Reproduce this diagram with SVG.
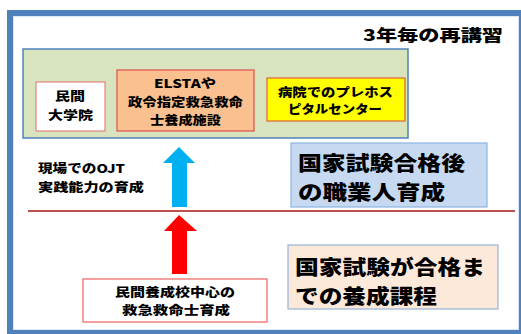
<svg xmlns="http://www.w3.org/2000/svg" width="521" height="334" viewBox="0 0 521 334">
<style>
text{font-family:"Noto Sans CJK JP","Noto Sans",sans-serif;font-weight:900;fill:#000;dominant-baseline:central}
.s{font-size:12px}
.b{font-size:20px}
.t{font-size:16px}
</style>
<rect width="521" height="334" fill="#fff"/>
<g id="frame">
<rect x="10" y="13" width="512" height="320" fill="#fff" stroke="#4f81bd" stroke-width="6"/>
<rect x="13.5" y="16.5" width="505" height="313" fill="none" stroke="#dce6f2" stroke-width="1"/>
</g>
<text id="title" class="t" x="363" y="34" textLength="140" lengthAdjust="spacingAndGlyphs">3年毎の再講習</text>
<g id="green">
<rect x="23" y="49" width="385" height="89" fill="#d7e4bd" stroke="#4f81bd" stroke-width="1.5"/>
</g>
<g id="n-univ">
<rect x="36" y="82" width="69" height="49" fill="#fff" stroke="#e46c6c" stroke-width="1"/>
<text class="s" x="55" y="95" textLength="30" lengthAdjust="spacingAndGlyphs">民間</text>
<text class="s" x="48" y="114" textLength="45" lengthAdjust="spacingAndGlyphs">大学院</text>
</g>
<g id="n-elsta">
<rect x="117" y="70" width="137" height="61" fill="#fac090" stroke="#e0504d" stroke-width="1.2"/>
<text class="s" x="154" y="82" textLength="62" lengthAdjust="spacingAndGlyphs">ELSTAや</text>
<text class="s" x="128" y="101" textLength="115" lengthAdjust="spacingAndGlyphs">政令指定救急救命</text>
<text class="s" x="150" y="119" textLength="71" lengthAdjust="spacingAndGlyphs">士養成施設</text>
</g>
<g id="n-hosp">
<rect x="267" y="78" width="138" height="43" fill="#ffff00" stroke="#e0603a" stroke-width="1.2"/>
<text class="s" x="278" y="91" textLength="115" lengthAdjust="spacingAndGlyphs">病院でのプレホス</text>
<text class="s" x="288" y="108" textLength="94" lengthAdjust="spacingAndGlyphs">ピタルセンター</text>
</g>
<g id="ojt">
<text class="s" x="38" y="167" textLength="87" lengthAdjust="spacingAndGlyphs">現場でのOJT</text>
<text class="s" x="38" y="186" textLength="106" lengthAdjust="spacingAndGlyphs">実践能力の育成</text>
</g>
<g id="n-after">
<rect x="291" y="143" width="196" height="64" fill="#c6d9f1" stroke="#8eb4e3" stroke-width="1.2"/>
<text class="b" x="298" y="162" textLength="167" lengthAdjust="spacingAndGlyphs">国家試験合格後</text>
<text class="b" x="298" y="191" textLength="147" lengthAdjust="spacingAndGlyphs">の職業人育成</text>
</g>
<g id="n-before">
<rect x="288" y="245" width="210" height="64" fill="#fde9d9" stroke="#95b3d7" stroke-width="1.2"/>
<text class="b" x="295" y="266" textLength="190" lengthAdjust="spacingAndGlyphs">国家試験が合格ま</text>
<text class="b" x="295" y="295" textLength="142" lengthAdjust="spacingAndGlyphs">での養成課程</text>
</g>
<g id="n-school">
<rect x="83" y="279" width="184" height="43" fill="#fff" stroke="#f06060" stroke-width="1.2"/>
<text class="s" x="115" y="291" textLength="120" lengthAdjust="spacingAndGlyphs">民間養成校中心の</text>
<text class="s" x="122" y="309" textLength="108" lengthAdjust="spacingAndGlyphs">救急救命士育成</text>
</g>
<g id="connectors">
<line x1="28" y1="211" x2="515" y2="211" stroke="#c0504d" stroke-width="2"/>
<polygon points="179,147 195,163 187,163 187,207 172,207 172,163 163,163" fill="#00b0f0"/>
<polygon points="179,215 197,231 187,231 187,274 172,274 172,231 164,231" fill="#ff0000"/>
</g>
</svg>
